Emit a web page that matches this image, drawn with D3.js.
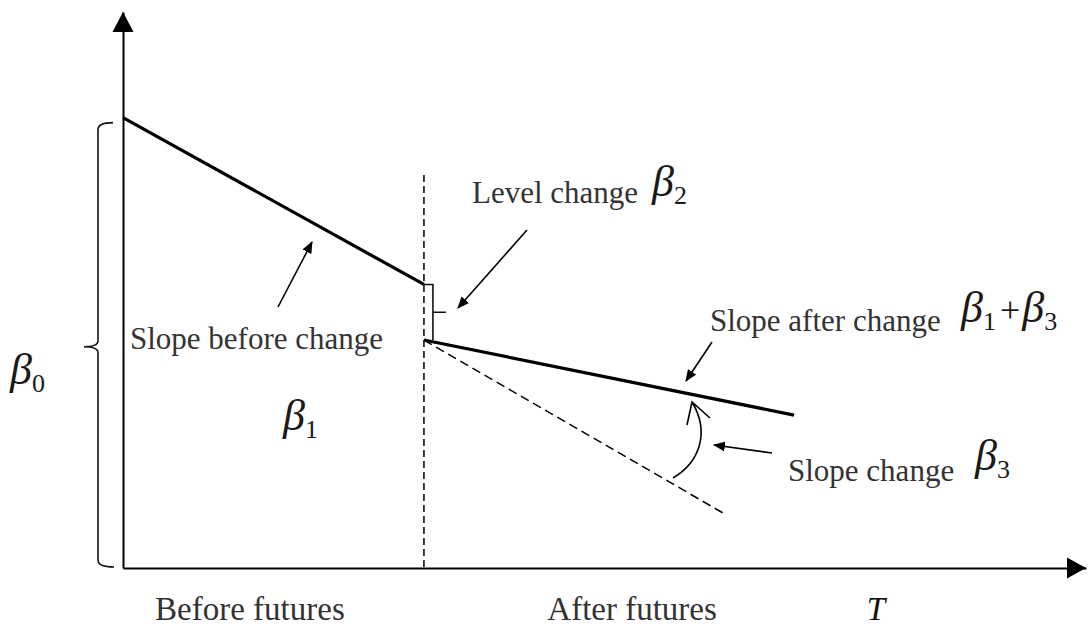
<!DOCTYPE html>
<html>
<head>
<meta charset="utf-8">
<script src="https://cdn.jsdelivr.net/npm/d3@7"></script>
<style>
  body { margin: 0; background: #fff; }
  svg { display: block; }
  .lbl { font-family: "Liberation Serif", "Times New Roman", serif; font-size: 31px; fill: #333; }
  .beta { font-family: "Liberation Serif", "Times New Roman", serif; font-style: italic; fill: #1a1a1a; }
</style>
</head>
<body>
<div id="chart"></div>
<script>
// interrupted time series sketch: values (T units / level units)
const breakT = 10;
const preT = [0, 10];
const preV = [81, 51];
const postT = [10, 22.3];
const postV = [41, 27.5];
const cfT = [10, 20];
const cfV = [41, 9.7];

const periodLabels = ["Before futures", "After futures", "T"];
const periodPos = [4.2, 16.9, 25];

const width = 1088, height = 628;

const svg = d3.select("#chart")
  .append("svg")
  .attr("width", width)
  .attr("height", height);

const x = d3.scaleLinear().domain([0, 32]).range([123, 1086]);
const y = d3.scaleLinear().domain([0, 100]).range([568, 12]);

// arrow marker for the annotation pointers
svg.append("defs").append("marker")
  .attr("id", "head")
  .attr("viewBox", "0 0 12 10")
  .attr("refX", 11).attr("refY", 5)
  .attr("markerWidth", 12).attr("markerHeight", 10)
  .attr("markerUnits", "userSpaceOnUse")
  .attr("orient", "auto")
  .append("path")
  .attr("d", "M0,0 L12,5 L0,10 Z")
  .attr("fill", "#000");

// axes (no ticks, just the lines + labels)
const xAxis = svg.append("g")
  .attr("transform", `translate(0,${y(0)})`)
  .call(d3.axisBottom(x).tickValues(periodPos).tickSize(0).tickSizeOuter(0).tickPadding(29)
    .tickFormat((d, i) => periodLabels[i]));
xAxis.select(".domain").attr("stroke", "#000").attr("stroke-width", 2);
xAxis.selectAll("text")
  .attr("class", "lbl")
  .style("font-size", "33px")
  .style("font-style", (d, i) => i == 2 ? "italic" : null)
  .style("fill", (d, i) => i == 2 ? "#111" : null);

const yAxis = svg.append("g")
  .attr("transform", `translate(${x(0)},0)`)
  .call(d3.axisLeft(y).tickValues([]).tickSizeOuter(0));
yAxis.select(".domain").attr("stroke", "#000").attr("stroke-width", 2);

// axis arrow heads
svg.append("path")
  .attr("d", `M${x(0)},${y(100)} L${x(0) - 10.5},${y(100) + 20} L${x(0) + 10.5},${y(100) + 20} Z`)
  .attr("fill", "#000");
svg.append("path")
  .attr("d", `M${x(32)},${y(0)} L${x(32) - 19},${y(0) - 10.5} L${x(32) - 19},${y(0) + 10.5} Z`)
  .attr("fill", "#000");

const line = d3.line().x(d => x(d[0])).y(d => y(d[1]));

// intervention marker
svg.append("line")
  .attr("x1", x(breakT)).attr("x2", x(breakT))
  .attr("y1", 175).attr("y2", y(0))
  .attr("stroke", "#000").attr("stroke-width", 1.5)
  .attr("stroke-dasharray", "7,4");

// counterfactual
svg.append("path")
  .datum(d3.zip(cfT, cfV))
  .attr("d", line)
  .attr("fill", "none").attr("stroke", "#000").attr("stroke-width", 1.5)
  .attr("stroke-dasharray", "9,5");

// segments before / after
[[preT, preV], [postT, postV]].forEach(([t, v]) => {
  svg.append("path")
    .datum(d3.zip(t, v))
    .attr("d", line)
    .attr("fill", "none").attr("stroke", "#000").attr("stroke-width", 3.2);
});

// level change bracket
const bx = x(breakT);
const yTop = y(preV[1]), yBot = y(postV[0]);
svg.append("path")
  .attr("d", `M${bx - 2},${yTop} H${bx + 9} V${yBot} M${bx + 9},${(yTop + yBot) / 2} H${bx + 22}`)
  .attr("fill", "none").attr("stroke", "#111").attr("stroke-width", 1.6);

// beta0 brace
const b0 = y(preV[0]) + 5, b1 = y(0) - 1, bm = (b0 + b1) / 2 + 2, bxl = 98;
svg.append("path")
  .attr("d", `M${bxl + 15},${b0} Q${bxl},${b0} ${bxl},${b0 + 7} V${bm - 6} Q${bxl},${bm} ${bxl - 14},${bm} Q${bxl},${bm} ${bxl},${bm + 6} V${b1 - 7} Q${bxl},${b1} ${bxl + 16},${b1}`)
  .attr("fill", "none").attr("stroke", "#111").attr("stroke-width", 1.6);

// pointer arrows
const pointers = [
  [[527, 230], [458, 308]],
  [[278, 307], [312, 242]],
  [[712, 342], [686, 381]],
  [[772, 453], [714, 445]]
];
pointers.forEach(([a, b]) => {
  svg.append("line")
    .attr("x1", a[0]).attr("y1", a[1]).attr("x2", b[0]).attr("y2", b[1])
    .attr("stroke", "#000").attr("stroke-width", 1.6)
    .attr("marker-end", "url(#head)");
});

// curved slope change arrow
svg.append("path")
  .attr("d", "M673,478 C700,462 710,432 692,402 M687,425 L692,402 L710,418")
  .attr("fill", "none").attr("stroke", "#000").attr("stroke-width", 1.6);

// text labels
const texts = [
  ["Level change", 472, 203],
  ["Slope before change", 130, 349],
  ["Slope after change", 710, 331],
  ["Slope change", 788, 481]
];
texts.forEach(([s, tx, ty]) => {
  svg.append("text").attr("class", "lbl").attr("x", tx).attr("y", ty).text(s);
});

// beta symbols
function beta(tx, ty, sub) {
  const t = svg.append("text").attr("class", "beta").attr("x", tx).attr("y", ty);
  t.append("tspan").style("font-size", "44px").text("β");
  t.append("tspan").style("font-size", "26px").style("font-style", "normal")
    .attr("dy", 8).text(sub);
  return t;
}
beta(10, 384, "0");
beta(283, 430, "1");
beta(652, 196, "2");
beta(975, 470, "3");
const bb = beta(961, 322, "1");
bb.append("tspan").attr("dy", -8).attr("dx", 4).style("font-size", "36px").style("font-style", "normal").text("+");
bb.append("tspan").attr("dx", 2).style("font-size", "44px").text("β");
bb.append("tspan").style("font-size", "26px").style("font-style", "normal").attr("dy", 8).text("3");
</script>
</body>
</html>
